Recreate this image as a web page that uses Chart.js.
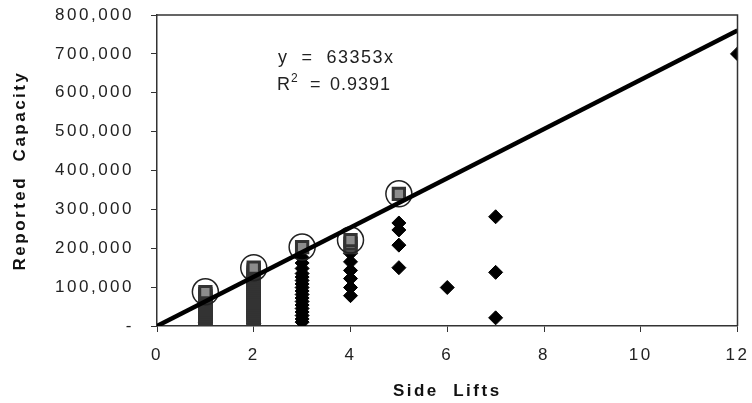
<!DOCTYPE html>
<html>
<head>
<meta charset="utf-8">
<script src="https://cdn.jsdelivr.net/npm/chart.js@4/dist/chart.umd.min.js"></script>
<style>
  html, body { margin: 0; padding: 0; background: #fff; }
  #chart { display: block; }
</style>
</head>
<body>
<canvas id="chart" width="752" height="403"></canvas>
<script>
// Side lifts vs reported capacity
const xTicks = [0, 2, 4, 6, 8, 10, 12];
const yTicks = [0, 100000, 200000, 300000, 400000, 500000, 600000, 700000, 800000];

// gray squares (stacked columns at 1 and 2 lifts, tops at 3-5)
const squareX = [1, 1, 1, 1, 1, 1, 1, 1, 1, 1, 1, 1, 1, 1, 1, 1, 1, 1,
    2, 2, 2, 2, 2, 2, 2, 2, 2, 2, 2, 2, 2, 2, 2, 2, 2, 2, 2, 2, 2, 2, 2, 2, 2, 2, 2, 2, 2, 2,
    3, 4, 4, 4, 5];
const squareY = [10000, 13000, 16000, 20000, 24000, 28000, 32000, 37000, 42000, 47000, 52000, 57000, 62000, 67000, 72000, 77000, 82000, 87000,
    9000, 12000, 16000, 20000, 25000, 30000, 35000, 40000, 45000, 50000, 55000, 60000, 65000, 70000, 75000, 80000, 85000, 90000, 95000, 100000, 105000, 110000, 115000, 120000, 125000, 130000, 135000, 140000, 145000, 150000,
    203000, 203000, 212000, 221000, 340000];

// black diamonds
const diamondX = [1, 1, 2,
    3, 3, 3, 3, 3, 3, 3, 3, 3, 3, 3, 3, 3, 3, 3, 3, 3, 3,
    4, 4, 4, 4, 4, 4,
    5, 5, 5, 5, 6, 7, 7, 7, 12];
const diamondY = [2000, 9000, 6000,
    10000, 18000, 27000, 36000, 45000, 54000, 63000, 72000, 81000, 90000, 99000, 108000, 117000, 126000, 135000, 148000, 162000, 176000,
    78000, 99000, 122000, 143000, 165000, 187000,
    265000, 247000, 208000, 150000, 99000, 281000, 138000, 21000, 700000];

// open circles marking the top value at each lift count
const circleX = [1, 2, 3, 4, 5];
const circleY = [88000, 150000, 203000, 221000, 340000];

// fitted line y = 63353x
const trendX = [0, 12];
const trendY = [0, 760236];
const equationParts = ['y  =  63353x', 'R', '2', '=', '0.9391'];

const FONT = '"Liberation Sans", Arial, sans-serif';

function zip(xs, ys) {
    return xs.map((x, i) => ({ x: x, y: ys[i] }));
}

const spacingPlugin = {
    id: 'spacing',
    beforeDraw(chart) {
        const ctx = chart.ctx;
        ctx.save();
        ctx.fillStyle = '#fff';
        ctx.fillRect(0, 0, chart.width, chart.height);
        ctx.restore();
        ctx.letterSpacing = '2.5px';
    },
    afterDraw(chart) {
        const ctx = chart.ctx;
        const a = chart.chartArea;
        ctx.save();
        // frame top / right
        ctx.strokeStyle = '#333';
        ctx.lineWidth = 1.5;
        ctx.beginPath();
        ctx.moveTo(a.left, a.top);
        ctx.lineTo(a.right, a.top);
        ctx.lineTo(a.right, a.bottom);
        ctx.stroke();
        // equation text
        ctx.fillStyle = '#222';
        ctx.textBaseline = 'alphabetic';
        ctx.font = '18px ' + FONT;
        ctx.letterSpacing = '1.5px';
        ctx.fillText(equationParts[0], 278, 63);
        ctx.fillText(equationParts[1], 277, 90);
        ctx.fillText(equationParts[3], 310, 90);
        ctx.letterSpacing = '1px';
        ctx.fillText(equationParts[4], 330, 90);
        ctx.font = '12px ' + FONT;
        ctx.fillText(equationParts[2], 291, 82);
        ctx.restore();
    }
};

new Chart(document.getElementById('chart'), {
    type: 'scatter',
    data: {
        datasets: [
            {
                type: 'line',
                data: zip(trendX, trendY),
                borderColor: '#000',
                borderWidth: 4.5,
                pointRadius: 0,
                fill: false
            },
            {
                data: zip(circleX, circleY),
                pointStyle: 'circle',
                pointRadius: 13,
                backgroundColor: 'rgba(0,0,0,0)',
                borderColor: '#222',
                borderWidth: 1.5
            },
            {
                data: zip(squareX, squareY),
                pointStyle: 'rect',
                pointRadius: 8,
                backgroundColor: '#8c8c8c',
                borderColor: '#333',
                borderWidth: 3
            },
            {
                data: zip(diamondX, diamondY),
                pointStyle: 'rectRot',
                pointRadius: 7,
                backgroundColor: '#000',
                borderColor: '#000',
                borderWidth: 1
            }
        ]
    },
    options: {
        responsive: false,
        animation: false,
        layout: { padding: { top: 15, right: 14, left: 0, bottom: 0 } },
        plugins: {
            legend: { display: false },
            tooltip: { enabled: false }
        },
        scales: {
            x: {
                type: 'linear',
                min: 0,
                max: 12,
                afterFit: function (scale) {
                    scale.height = 77;
                    scale.paddingLeft = 0;
                    scale.paddingRight = 0;
                },
                afterBuildTicks: function (scale) { scale.ticks = xTicks.map(v => ({ value: v })); },
                ticks: {
                    color: '#222',
                    font: { family: FONT, size: 17 },
                    padding: 13,
                    maxRotation: 0
                },
                grid: { drawOnChartArea: false, tickLength: 6, color: '#333', lineWidth: 1 },
                border: { color: '#333', width: 1.5 },
                title: {
                    display: true,
                    text: 'Side  Lifts',
                    color: '#111',
                    font: { family: FONT, size: 17, weight: 'bold' },
                    padding: { top: 0, bottom: 1 }
                }
            },
            y: {
                min: 0,
                max: 800000,
                afterFit: function (scale) {
                    scale.width = 157;
                    scale.paddingTop = 0;
                    scale.paddingBottom = 0;
                },
                afterBuildTicks: function (scale) { scale.ticks = yTicks.map(v => ({ value: v })); },
                ticks: {
                    color: '#222',
                    font: { family: FONT, size: 17 },
                    padding: 17,
                    callback: function (v) { return v === 0 ? '-' : v.toLocaleString('en-US'); }
                },
                grid: { drawOnChartArea: false, tickLength: 6, color: '#333', lineWidth: 1 },
                border: { color: '#333', width: 1.5 },
                title: {
                    display: true,
                    text: 'Reported  Capacity',
                    color: '#111',
                    font: { family: FONT, size: 17, weight: 'bold' },
                    padding: { top: 10, bottom: 0 }
                }
            }
        }
    },
    plugins: [spacingPlugin]
});
</script>
</body>
</html>
